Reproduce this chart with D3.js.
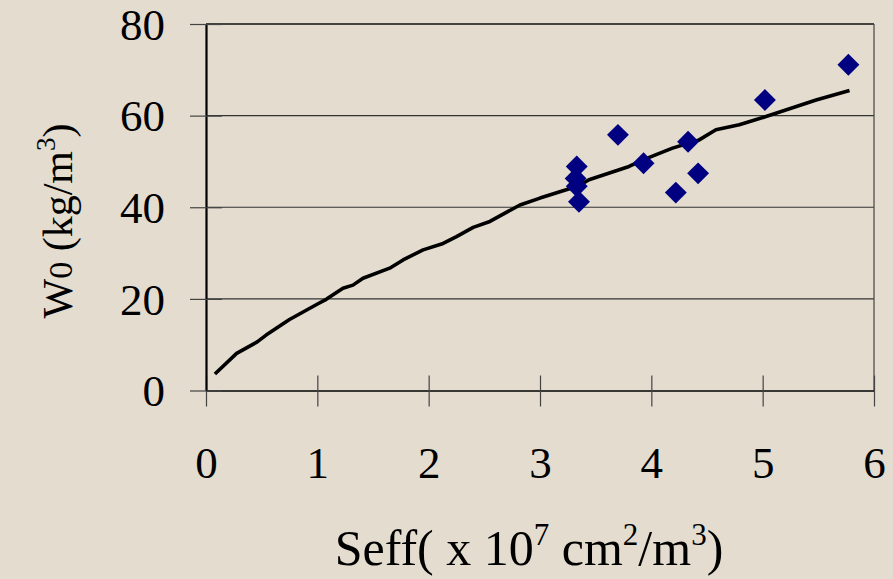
<!DOCTYPE html>
<html>
<head>
<meta charset="utf-8">
<script src="https://cdn.jsdelivr.net/npm/d3@7"></script>
<style>
  body { margin: 0; background: #e3dccf; }
  svg, svg text { font-family: "Liberation Serif", "DejaVu Serif", serif !important; fill: #000; }
</style>
</head>
<body>
<div id="chart"></div>
<script>
// Tamaño de la figura
var width = 893;
var height = 579;

// Puntos medidos (Seff, W0)
var seffPoints = [3.70, 3.33, 3.32, 3.33, 3.35, 3.93, 4.33, 4.42, 4.22, 5.02, 5.77];
var w0Points   = [55.8, 48.9, 46.3, 44.6, 41.2, 49.6, 54.3, 47.4, 43.2, 63.4, 71.1];

// Curva del modelo
var seffCurve = [0.08, 0.275, 0.46, 0.54, 0.75, 1.01, 1.08, 1.23, 1.32, 1.41, 1.65, 1.77, 1.95,
                 2.13, 2.25, 2.40, 2.55, 2.82, 3.0, 3.35, 3.44, 3.80, 3.92, 4.19, 4.43, 4.58,
                 4.79, 5.03, 5.48, 5.78];
var w0Curve   = [3.6, 8.1, 10.6, 12.1, 15.5, 19.0, 19.9, 22.3, 23.0, 24.5, 26.7, 28.5, 30.7,
                 32.1, 33.6, 35.6, 36.9, 40.5, 42.0, 44.7, 46.0, 48.9, 50.3, 52.9, 54.7, 56.9,
                 58.0, 59.8, 63.4, 65.5];

// Ticks
var xTicks = [0, 1, 2, 3, 4, 5, 6];
var yTicks = [0, 20, 40, 60, 80];
var gridTicks = [20, 40, 60];

var svg = d3.select("#chart")
  .append("svg")
  .attr("width", width)
  .attr("height", height);

svg.append("rect")
  .attr("width", width)
  .attr("height", height)
  .attr("fill", "#e3dccf");

// Escalas
var x = d3.scaleLinear().domain([0, 6]).range([206, 874]);
var y = d3.scaleLinear().domain([0, 80]).range([390.5, 24]);

// Rejilla horizontal
svg.selectAll(".grid")
  .data(gridTicks)
  .enter()
  .append("line")
  .attr("x1", x(0)).attr("x2", x(6))
  .attr("y1", function(d) { return y(d); })
  .attr("y2", function(d) { return y(d); })
  .attr("stroke", "#333")
  .attr("stroke-width", 1.2);

// Borde superior y derecho
svg.append("line")
  .attr("x1", x(0)).attr("x2", x(6))
  .attr("y1", y(80)).attr("y2", y(80))
  .attr("stroke", "#111").attr("stroke-width", 1.5);
svg.append("line")
  .attr("x1", x(6)).attr("x2", x(6))
  .attr("y1", y(80)).attr("y2", y(0))
  .attr("stroke", "#444").attr("stroke-width", 1.2);

// Eje X
var xAxis = d3.axisBottom(x)
  .tickValues(xTicks)
  .tickSize(0)
  .tickFormat(d3.format("d"));
var gx = svg.append("g")
  .attr("transform", "translate(0," + y(0) + ")")
  .call(xAxis)
  .attr("font-family", null);
gx.select(".domain").attr("stroke", "#000").attr("stroke-width", 1.6);
gx.selectAll(".tick text")
  .attr("y", 87)
  .attr("dy", 0)
  .attr("font-size", 45);
gx.selectAll(".tick").append("line")
  .attr("y1", -15).attr("y2", 16)
  .attr("stroke", "#444").attr("stroke-width", 1.2);

// Eje Y
var yAxis = d3.axisLeft(y)
  .tickValues(yTicks)
  .tickSize(0)
  .tickFormat(d3.format("d"));
var gy = svg.append("g")
  .attr("transform", "translate(" + x(0) + ",0)")
  .call(yAxis)
  .attr("font-family", null);
gy.select(".domain").attr("stroke", "#000").attr("stroke-width", 2.2);
gy.selectAll(".tick text")
  .attr("x", -41)
  .attr("dy", "0.34em")
  .attr("font-size", 45);
gy.selectAll(".tick").append("line")
  .attr("x1", -16).attr("x2", 16)
  .attr("stroke", "#444").attr("stroke-width", 1.2);

// Curva
var curveData = seffCurve.map(function(d, i) { return [d, w0Curve[i]]; });
var line = d3.line()
  .x(function(d) { return x(d[0]); })
  .y(function(d) { return y(d[1]); });
svg.append("path")
  .datum(curveData)
  .attr("d", line)
  .attr("fill", "none")
  .attr("stroke", "#000")
  .attr("stroke-width", 3.6)
  .attr("stroke-linejoin", "round");

// Puntos (rombos)
var pointData = seffPoints.map(function(d, i) { return [d, w0Points[i]]; });
var diamond = d3.symbol().type(d3.symbolSquare).size(240);
svg.selectAll(".pt")
  .data(pointData)
  .enter()
  .append("path")
  .attr("d", diamond)
  .attr("transform", function(d) {
    return "translate(" + x(d[0]) + "," + y(d[1]) + ") rotate(45)";
  })
  .attr("fill", "#000080");

// Títulos de los ejes
var xt = svg.append("text")
  .attr("x", 529)
  .attr("y", 565)
  .attr("text-anchor", "middle")
  .attr("font-size", 50);
xt.append("tspan").text("Seff( x 10");
xt.append("tspan").attr("font-size", 31).attr("dy", -20).text("7");
xt.append("tspan").attr("dy", 20).text(" cm");
xt.append("tspan").attr("font-size", 31).attr("dy", -20).text("2");
xt.append("tspan").attr("dy", 20).text("/m");
xt.append("tspan").attr("font-size", 31).attr("dy", -20).text("3");
xt.append("tspan").attr("dy", 20).text(")");

var yt = svg.append("text")
  .attr("transform", "translate(72,221) rotate(-90)")
  .attr("text-anchor", "middle")
  .attr("font-size", 42);
yt.append("tspan").text("W");
yt.append("tspan").attr("font-size", 34).text("0");
yt.append("tspan").text(" (kg/m");
yt.append("tspan").attr("font-size", 27).attr("dy", -17).text("3");
yt.append("tspan").attr("dy", 17).text(")");
</script>
</body>
</html>
